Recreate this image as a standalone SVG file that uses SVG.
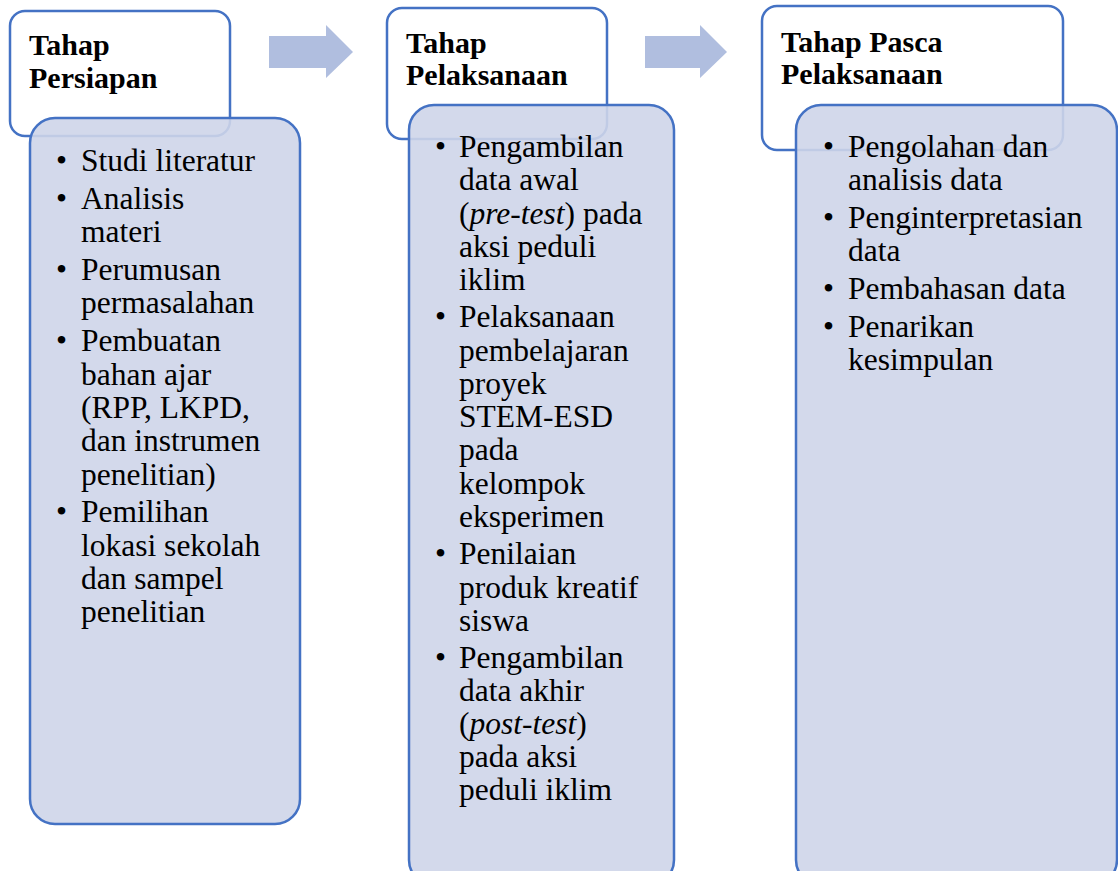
<svg xmlns="http://www.w3.org/2000/svg" width="1118" height="871" viewBox="0 0 1118 871">
<style>
.hdr{fill:#FFFFFF;stroke:#4472C4;stroke-width:2.5}
.det{fill:#CED5E9;fill-opacity:0.9;stroke:#4472C4;stroke-width:2.5}
.arr{fill:#B0BEDF}
.ht{font-family:"Liberation Serif","Times New Roman",serif;font-weight:bold;font-size:30px;fill:#000}
.bt{font-family:"Liberation Serif","Times New Roman",serif;font-size:31.5px;fill:#000}
.it{font-style:italic}
</style>
<rect width="1118" height="871" fill="#FFFFFF"/>
<g id="connectors">
<polygon class="arr" points="269,36 326,36 326,25 353,52 326,78 326,68 269,68"/>
<polygon class="arr" points="645,36 700,36 700,25 727,52 700,78 700,68 645,68"/>
</g>
<g id="node1">
<rect class="hdr" x="10" y="11" width="220" height="125" rx="15"/>
<text class="ht" x="29" y="55">Tahap</text>
<text class="ht" x="29" y="88">Persiapan</text>
<rect class="det" x="30" y="118" width="270" height="706" rx="25"/>
<g class="bt">
<text x="56" y="171">•</text><text x="81" y="171">Studi literatur</text>
<text x="56" y="209">•</text><text x="81" y="209">Analisis</text>
<text x="81" y="242">materi</text>
<text x="56" y="280">•</text><text x="81" y="280">Perumusan</text>
<text x="81" y="313">permasalahan</text>
<text x="56" y="351">•</text><text x="81" y="351">Pembuatan</text>
<text x="81" y="385">bahan ajar</text>
<text x="81" y="418">(RPP, LKPD,</text>
<text x="81" y="451">dan instrumen</text>
<text x="81" y="485">penelitian)</text>
<text x="56" y="522">•</text><text x="81" y="522">Pemilihan</text>
<text x="81" y="556">lokasi sekolah</text>
<text x="81" y="589">dan sampel</text>
<text x="81" y="622">penelitian</text>
</g>
</g>
<g id="node2">
<rect class="hdr" x="387" y="8" width="220" height="131" rx="15"/>
<text class="ht" x="406" y="53">Tahap</text>
<text class="ht" x="406" y="85">Pelaksanaan</text>
<rect class="det" x="409" y="105" width="265" height="780" rx="25"/>
<g class="bt">
<text x="435" y="157">•</text><text x="459" y="157">Pengambilan</text>
<text x="459" y="190">data awal</text>
<text x="459" y="224">(<tspan class="it">pre-test</tspan>) pada</text>
<text x="459" y="257">aksi peduli</text>
<text x="459" y="290">iklim</text>
<text x="435" y="327">•</text><text x="459" y="327">Pelaksanaan</text>
<text x="459" y="361">pembelajaran</text>
<text x="459" y="394">proyek</text>
<text x="459" y="427">STEM-ESD</text>
<text x="459" y="460">pada</text>
<text x="459" y="494">kelompok</text>
<text x="459" y="527">eksperimen</text>
<text x="435" y="564">•</text><text x="459" y="564">Penilaian</text>
<text x="459" y="598">produk kreatif</text>
<text x="459" y="631">siswa</text>
<text x="435" y="668">•</text><text x="459" y="668">Pengambilan</text>
<text x="459" y="701">data akhir</text>
<text x="459" y="734">(<tspan class="it">post-test</tspan>)</text>
<text x="459" y="767">pada aksi</text>
<text x="459" y="800">peduli iklim</text>
</g>
</g>
<g id="node3">
<rect class="hdr" x="762" y="6" width="301" height="144" rx="15"/>
<text class="ht" x="781" y="52">Tahap Pasca</text>
<text class="ht" x="781" y="84">Pelaksanaan</text>
<rect class="det" x="796" y="105" width="321" height="780" rx="25"/>
<g class="bt">
<text x="823" y="157">•</text><text x="848" y="157">Pengolahan dan</text>
<text x="848" y="190">analisis data</text>
<text x="823" y="228">•</text><text x="848" y="228">Penginterpretasian</text>
<text x="848" y="261">data</text>
<text x="823" y="299">•</text><text x="848" y="299">Pembahasan data</text>
<text x="823" y="337">•</text><text x="848" y="337">Penarikan</text>
<text x="848" y="370">kesimpulan</text>
</g>
</g>
</svg>
